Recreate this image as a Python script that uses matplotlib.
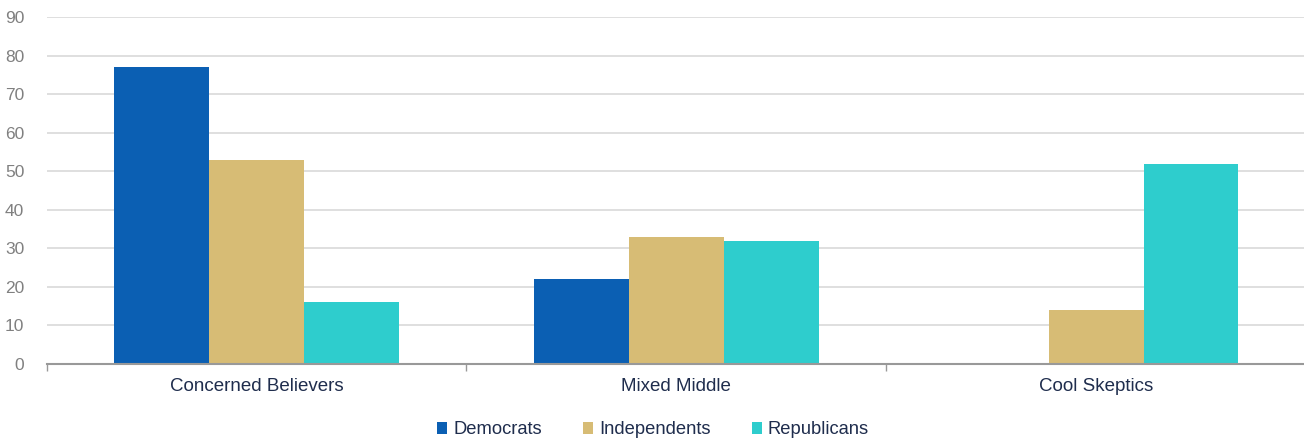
import matplotlib
matplotlib.use("Agg")
import matplotlib.pyplot as plt
import numpy as np

categories = ["Concerned Believers", "Mixed Middle", "Cool Skeptics"]
series_names = ["Democrats", "Independents", "Republicans"]
democrats = [77, 22, 0]
independents = [53, 33, 14]
republicans = [16, 32, 52]
y_ticks = [0, 10, 20, 30, 40, 50, 60, 70, 80, 90]

colors = ["#0b5fb3", "#d7bc75", "#2ecdcd"]

plt.rcParams["font.family"] = ["Liberation Sans", "DejaVu Sans"]

fig = plt.figure(figsize=(13.04, 4.38), dpi=100)
left = 46.5 / 1304
right = 1306 / 1304
ax = fig.add_axes([left, 74 / 438, right - left, (364 - 17) / 438])

x = np.arange(len(categories))
width = 0.226
for i, (vals, name, c) in enumerate(zip([democrats, independents, republicans], series_names, colors)):
    ax.bar(x + (i - 1) * width, vals, width=width, color=c, label=name, zorder=3, linewidth=0)

ax.set_xlim(-0.5, len(categories) - 0.5)
ax.set_ylim(0, 90)
ax.set_yticks(y_ticks)
ax.yaxis.grid(True, color="#d9d9d9", linewidth=1.2, zorder=0)
ax.tick_params(axis="y", length=0, labelsize=12.5, labelcolor="#808080", pad=16)

ax.set_xticks(x)
ax.set_xticklabels(categories)
ax.set_xticks(np.arange(len(categories) + 1) - 0.5, minor=True)
ax.tick_params(axis="x", which="major", length=0, labelsize=13.5, labelcolor="#1f2d4d", pad=10)
ax.tick_params(axis="x", which="minor", length=5, width=1, color="#999999")

for s in ["top", "right", "left"]:
    ax.spines[s].set_visible(False)
ax.spines["bottom"].set_color("#999999")
ax.spines["bottom"].set_linewidth(1.5)
ax.spines["bottom"].set_zorder(4)

leg = fig.legend(loc="center", bbox_to_anchor=(653 / 1304, 1 - 430 / 438), ncol=3, frameon=False,
                 fontsize=13.2, handlelength=0.55, handleheight=0.55, handletextpad=0.33,
                 columnspacing=2.25)
for t in leg.get_texts():
    t.set_color("#1f2d4d")

fig.savefig("out.png", dpi=100)
